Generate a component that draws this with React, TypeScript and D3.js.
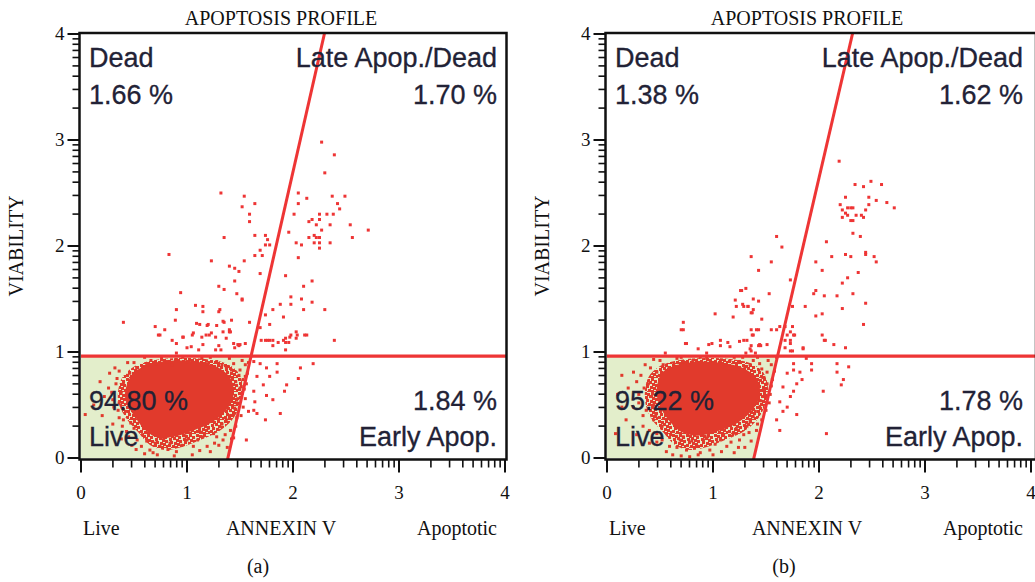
import React from "react";
import * as d3 from "d3";

// ---------- data ----------
const panelTags = ["(a)", "(b)"];
const panelTitle = "APOPTOSIS PROFILE";
const deadPct = ["1.66 %", "1.38 %"];
const latePct = ["1.70 %", "1.62 %"];
const livePct = ["94.80 %", "95.22 %"];
const earlyPct = ["1.84 %", "1.78 %"];
const gateY = [0.962, 0.962];
const diagBottomX = [1.377, 1.377];
const diagTopX = [2.3, 2.32];
const majorTicks = [0, 1, 2, 3, 4];
const minorDecadeSteps = [2, 3, 4, 5, 6, 7, 8, 9];

type P = [number, number];

// solid centre of the live population
const coreA: P[] = [
  [0.415, 0.61], [0.478, 0.783], [0.62, 0.877], [0.84, 0.918], [1.091, 0.909], [1.28, 0.861],
  [1.41, 0.752], [1.44, 0.594], [1.37, 0.45], [1.24, 0.34], [1.06, 0.26], [0.871, 0.2],
  [0.73, 0.19], [0.6, 0.27], [0.5, 0.4], [0.431, 0.516],
];
const coreB: P[] = [
  [0.469, 0.642], [0.516, 0.799], [0.657, 0.877], [0.877, 0.909], [1.097, 0.893], [1.286, 0.846],
  [1.42, 0.736], [1.44, 0.578], [1.36, 0.44], [1.23, 0.33], [1.035, 0.25], [0.846, 0.21],
  [0.68, 0.26], [0.55, 0.4], [0.484, 0.531],
];
// dense speckled halo of the live population
const haloA: P[] = [
  [0.349, 0.547], [0.387, 0.755], [0.509, 0.868], [0.698, 0.925], [0.934, 0.943], [1.17, 0.934],
  [1.358, 0.896], [1.481, 0.811], [1.528, 0.66], [1.5, 0.5], [1.425, 0.358], [1.292, 0.245],
  [1.123, 0.17], [0.953, 0.104], [0.792, 0.075], [0.651, 0.123], [0.538, 0.245], [0.425, 0.377],
];
const haloB: P[] = [
  [0.358, 0.547], [0.387, 0.755], [0.5, 0.868], [0.689, 0.925], [0.925, 0.943], [1.16, 0.934],
  [1.349, 0.896], [1.472, 0.811], [1.519, 0.66], [1.491, 0.5], [1.415, 0.358], [1.283, 0.245],
  [1.113, 0.17], [0.943, 0.104], [0.783, 0.075], [0.642, 0.123], [0.528, 0.245], [0.415, 0.377],
];

const fringeA: P[] = [
  [0.04, 0.41], [0.27, 0.8], [0.3, 0.55], [0.26, 0.66], [0.34, 0.75], [0.35, 0.45], [0.4, 0.36], [0.43, 0.25],
  [0.53, 0.17], [0.57, 0.11], [0.65, 0.075], [0.745, 0.11], [0.84, 0.14], [0.9, 0.06], [1.0, 0.17], [1.06, 0.11],
  [1.15, 0.2], [1.19, 0.11], [1.25, 0.23], [1.31, 0.295], [1.34, 0.17], [1.37, 0.36], [1.41, 0.26], [1.44, 0.42],
  [1.47, 0.52], [1.52, 0.61], [1.53, 0.74], [1.5, 0.83], [1.55, 0.88], [1.44, 0.89], [1.37, 0.86], [1.28, 0.91],
  [1.19, 0.89], [1.09, 0.92], [1.0, 0.91], [0.9, 0.93], [0.81, 0.91], [0.71, 0.89], [0.62, 0.88], [0.525, 0.85],
  [0.46, 0.8], [0.38, 0.62], [0.36, 0.52], [0.4, 0.7], [0.44, 0.78], [0.42, 0.44], [0.47, 0.33], [0.5, 0.28],
  [0.58, 0.22], [0.62, 0.16], [0.7, 0.14], [0.78, 0.18], [0.82, 0.08], [0.95, 0.12], [0.98, 0.21], [1.1, 0.17],
  [1.12, 0.25], [1.2, 0.28], [1.28, 0.2], [1.33, 0.32], [1.4, 0.4], [1.45, 0.47], [1.48, 0.56], [1.5, 0.66],
  [1.46, 0.72], [1.49, 0.78], [1.42, 0.83], [1.33, 0.88], [1.24, 0.86], [1.14, 0.94], [0.96, 0.95], [0.86, 0.88],
  [0.76, 0.94], [0.66, 0.92], [0.58, 0.86], [0.5, 0.9], [0.32, 0.85], [0.22, 0.58], [0.18, 0.72], [0.12, 0.5],
  [0.2, 0.4], [0.3, 0.32], [0.38, 0.18], [0.48, 0.12], [0.6, 0.04], [0.72, 0.03], [1.05, 0.03], [1.22, 0.06],
  [1.3, 0.12], [1.38, 0.1], [1.42, 0.18], [1.46, 0.3], [1.51, 0.4], [1.53, 0.48], [1.55, 0.56], [1.56, 0.7],
  [1.57, 0.8], [1.58, 0.9], [0.29, 0.62], [0.31, 0.48], [0.33, 0.7], [0.36, 0.38], [0.39, 0.3], [0.45, 0.2],
  [0.52, 0.08], [0.68, 0.05], [0.88, 0.02], [1.12, 0.07], [1.26, 0.14], [1.36, 0.22], [1.47, 0.38], [1.54, 0.65],
  [1.55, 0.77], [1.52, 0.92], [1.4, 0.94], [1.22, 0.95], [0.6, 0.95], [0.44, 0.9], [0.36, 0.82],
];

const fringeB: P[] = [
  [0.14, 0.78], [0.25, 0.81], [0.28, 0.72], [0.41, 0.85], [0.39, 0.7], [0.42, 0.58], [0.37, 0.45], [0.44, 0.36],
  [0.08, 0.23], [0.14, 0.48], [0.25, 0.48], [0.34, 0.3], [0.47, 0.23], [0.52, 0.17], [0.59, 0.11], [0.69, 0.17],
  [0.75, 0.075], [0.78, 0.012], [0.85, 0.11], [0.91, 0.17], [0.97, 0.075], [1.07, 0.17], [1.13, 0.11], [1.19, 0.23],
  [1.25, 0.17], [1.32, 0.3], [1.38, 0.39], [1.41, 0.26], [1.44, 0.48], [1.49, 0.58], [1.51, 0.7], [1.51, 0.81],
  [1.55, 0.88], [1.44, 0.89], [1.35, 0.88], [1.25, 0.91], [1.16, 0.92], [1.07, 0.92], [0.94, 0.94], [0.81, 0.92],
  [0.72, 0.91], [0.63, 0.89], [0.53, 0.88], [0.47, 0.81], [0.3, 0.6], [0.35, 0.66], [0.44, 0.5], [0.46, 0.4],
  [0.52, 0.3], [0.6, 0.22], [0.66, 0.1], [0.72, 0.2], [0.8, 0.16], [0.88, 0.05], [0.95, 0.2], [1.02, 0.13],
  [1.1, 0.22], [1.17, 0.15], [1.22, 0.28], [1.29, 0.22], [1.35, 0.34], [1.4, 0.44], [1.45, 0.54], [1.48, 0.64],
  [1.47, 0.76], [1.52, 0.92], [1.46, 0.84], [1.38, 0.92], [1.3, 0.86], [1.2, 0.95], [1.0, 0.9], [0.88, 0.95],
  [0.76, 0.88], [0.66, 0.94], [0.58, 0.84], [0.5, 0.92], [0.36, 0.88], [0.2, 0.66], [0.18, 0.36], [0.1, 0.6],
  [0.28, 0.22], [0.4, 0.14], [0.62, 0.03], [1.0, 0.03], [1.2, 0.05], [1.3, 0.1], [1.36, 0.16], [1.42, 0.32],
  [1.5, 0.45], [1.54, 0.6], [1.56, 0.74], [1.58, 0.82], [1.6, 0.95], [0.3, 0.52], [0.32, 0.78], [0.34, 0.4],
  [0.4, 0.26], [0.47, 0.15], [0.56, 0.06], [0.7, 0.02], [0.86, 0.03], [1.08, 0.06], [1.24, 0.1], [1.34, 0.24],
  [1.46, 0.36], [1.53, 0.52], [1.55, 0.68], [1.42, 0.95], [1.28, 0.95], [0.7, 0.95], [0.44, 0.93],
];

const scatterA: P[] = [
  [2.27, 2.98], [2.39, 2.86], [2.3, 2.69], [1.32, 2.5], [1.54, 2.47], [1.64, 2.4], [1.52, 2.37], [1.59, 2.3],
  [1.59, 2.23], [2.05, 2.5], [2.13, 2.45], [2.05, 2.4], [2.37, 2.47], [2.49, 2.47], [2.42, 2.4], [2.44, 2.35],
  [2.01, 2.3], [2.25, 2.3], [2.32, 2.3], [2.38, 2.3], [2.18, 2.25], [2.15, 2.23], [2.25, 2.25], [2.22, 2.2],
  [2.35, 2.2], [2.54, 2.2], [2.71, 2.15], [2.27, 2.15], [2.15, 2.08], [2.2, 2.1], [2.22, 2.08], [2.25, 2.08],
  [2.2, 2.03], [2.25, 2.03], [2.35, 2.03], [2.25, 1.98], [2.56, 2.08], [1.96, 2.13], [2.03, 2.03], [2.08, 2.01],
  [2.05, 1.89], [1.35, 2.08], [1.64, 2.1], [1.74, 2.1], [1.76, 2.06], [1.74, 2.01], [1.78, 2.01], [1.69, 1.96],
  [1.64, 1.91], [1.71, 1.91], [1.23, 1.86], [1.54, 1.86], [1.4, 1.81], [1.45, 1.79], [1.49, 1.76], [1.69, 1.74],
  [1.93, 1.72], [1.45, 1.67], [2.18, 1.67], [1.3, 1.62], [1.35, 1.59], [2.1, 1.62], [1.47, 1.55], [1.52, 1.5],
  [1.98, 1.52], [1.88, 1.45], [1.98, 1.45], [2.08, 1.5], [2.18, 1.47], [1.81, 1.4], [2.1, 1.4], [2.3, 1.4],
  [1.15, 1.43], [1.15, 1.38], [1.3, 1.38], [1.74, 1.35], [1.91, 1.33], [1.42, 1.3], [1.35, 1.28], [1.59, 1.28],
  [1.2, 1.26], [1.78, 1.26], [1.12, 1.26], [1.69, 1.23], [1.4, 1.21], [1.4, 1.19], [1.98, 1.16], [2.03, 1.19],
  [2.13, 1.16], [1.18, 1.16], [1.21, 1.16], [1.27, 1.14], [1.14, 1.14], [1.74, 1.11], [1.78, 1.11], [1.7, 1.11],
  [1.81, 1.06], [1.86, 1.09], [1.93, 1.13], [1.93, 1.09], [1.96, 1.09], [2.03, 1.13], [2.39, 1.11], [1.93, 1.02],
  [1.3, 1.06], [1.32, 1.02], [1.45, 1.04], [1.49, 1.06], [0.73, 1.16], [0.86, 1.11], [0.96, 1.14], [1.05, 1.16],
  [1.0, 1.04], [1.15, 1.07], [1.41, 1.19], [1.48, 1.07], [1.27, 1.02], [1.11, 1.02], [0.9, 0.99], [1.76, 1.11],
  [1.81, 1.11], [1.91, 1.11], [1.97, 1.14], [2.04, 1.16], [2.11, 1.16], [0.4, 1.28], [0.745, 1.16], [0.79, 1.21],
  [0.89, 1.3], [0.9, 1.08], [0.965, 1.14], [1.06, 1.18], [1.09, 1.27], [1.19, 1.25], [1.23, 1.18], [1.28, 1.25],
  [1.34, 1.29], [1.34, 1.19], [1.37, 1.13], [1.44, 1.08], [1.5, 1.07], [1.55, 1.08], [1.52, 1.49], [1.31, 1.4],
  [1.04, 1.05], [0.83, 1.92], [0.94, 1.56], [0.7, 1.24], [0.9, 1.4], [1.08, 1.44],
  [2.19, 0.89], [2.07, 0.85], [2.05, 0.75], [1.94, 0.69], [1.92, 0.63], [1.85, 0.89], [1.85, 0.81], [1.75, 0.85],
  [1.78, 0.77], [1.72, 0.69], [1.75, 0.59], [1.81, 0.55], [1.88, 0.42], [1.74, 0.36], [1.64, 0.53], [1.63, 0.63],
  [1.66, 0.77], [1.69, 0.89], [1.63, 0.91], [1.56, 0.17], [1.44, 0.19], [1.63, 0.45], [1.58, 0.44], [1.66, 0.42],
];

const scatterB: P[] = [
  [2.19, 2.8], [2.34, 2.58], [2.42, 2.56], [2.49, 2.61], [2.59, 2.58], [2.25, 2.46], [2.47, 2.46], [2.54, 2.43],
  [2.64, 2.41], [2.71, 2.36], [2.2, 2.39], [2.47, 2.39], [2.22, 2.34], [2.25, 2.31], [2.27, 2.36], [2.3, 2.36],
  [2.32, 2.36], [2.27, 2.29], [2.35, 2.29], [2.4, 2.29], [2.42, 2.27], [2.44, 2.34], [2.22, 2.27], [2.3, 2.24],
  [2.32, 2.24], [2.32, 2.12], [2.39, 2.09], [2.07, 2.04], [1.6, 2.09], [1.65, 1.99], [1.36, 1.9], [1.55, 1.85],
  [1.43, 1.77], [2.12, 1.9], [2.25, 1.92], [2.3, 1.9], [2.44, 1.94], [2.44, 1.92], [2.52, 1.9], [2.54, 1.85],
  [1.97, 1.85], [2.03, 1.77], [2.37, 1.75], [2.27, 1.7], [2.22, 1.65], [1.73, 1.68], [2.32, 1.55], [1.95, 1.55],
  [1.97, 1.58], [2.05, 1.53], [2.17, 1.53], [1.53, 1.55], [1.31, 1.6], [1.27, 1.58], [1.38, 1.5], [1.43, 1.48],
  [1.29, 1.43], [1.33, 1.43], [1.87, 1.43], [2.44, 1.46], [1.38, 1.4], [1.36, 1.37], [1.75, 1.43], [2.22, 1.41],
  [1.97, 1.34], [2.03, 1.36], [1.46, 1.31], [2.42, 1.26], [1.36, 1.21], [1.43, 1.21], [1.55, 1.21], [1.6, 1.21],
  [1.63, 1.24], [1.68, 1.24], [1.75, 1.24], [1.73, 1.19], [1.77, 1.16], [2.03, 1.16], [2.05, 1.11], [1.29, 1.11],
  [1.36, 1.06], [1.43, 1.06], [1.45, 1.06], [1.68, 1.11], [1.73, 1.11], [2.14, 1.07], [2.25, 1.04], [1.85, 1.04],
  [1.68, 1.04], [1.73, 1.01], [1.75, 1.01], [1.36, 1.01], [1.4, 0.99], [1.31, 0.99], [0.72, 1.21], [0.75, 1.08],
  [0.86, 1.03], [0.99, 1.08], [1.07, 1.11], [1.07, 1.06], [1.16, 1.05], [1.25, 1.1], [1.32, 1.11], [1.38, 1.16],
  [1.41, 1.21], [1.35, 1.03], [1.44, 1.07], [1.51, 1.07], [0.55, 0.99], [0.94, 0.99], [1.7, 1.16], [1.76, 1.16],
  [1.73, 1.08], [1.85, 1.03], [2.06, 1.11], [0.72, 1.28], [1.21, 1.49], [1.26, 1.58], [1.02, 1.36], [1.22, 1.43],
  [1.28, 1.45], [1.33, 1.43], [1.37, 1.37], [1.19, 1.33], [1.37, 1.16], [1.14, 1.09], [0.7, 1.21], [0.74, 1.08],
  [0.96, 1.07],
  [1.88, 0.94], [1.93, 0.89], [1.93, 0.83], [2.17, 0.89], [2.28, 0.86], [2.17, 0.81], [2.23, 0.74], [2.21, 0.69],
  [2.04, 0.63], [1.76, 0.89], [1.76, 0.83], [1.82, 0.81], [1.84, 0.74], [1.79, 0.7], [1.76, 0.63], [1.7, 0.8],
  [1.66, 0.67], [1.73, 0.58], [1.7, 0.48], [1.79, 0.41], [1.63, 0.53], [1.66, 0.44], [1.6, 0.36], [1.63, 0.26],
  [2.07, 0.23],
];

const cores = [coreA, coreB];
const halos = [haloA, haloB];
const fringes = [fringeA, fringeB];
const scatters = [scatterA, scatterB];

// ---------- layout ----------
const W = 1035;
const H = 582;
const panelLeft = [81, 607];
const plotW = 424;
const yTop = 34;
const yBottom = 458;

const RED = "#ee3535";
const CORE = "#e13a2c";
const GREEN = "#e3eecb";
const TXT = "#222236";
const SANS = "Liberation Sans, Arial, sans-serif";
const SERIF = "Liberation Serif, Times New Roman, serif";

// irregular speckle tile (texture only)
const speckleTile: P[] = [
  [0, 0], [3, 1], [7, 0], [10, 2], [1, 4], [5, 3], [8, 5], [11, 6], [2, 7], [6, 8], [9, 9], [0, 10], [4, 11], [7, 12], [12, 11], [3, 13], [10, 13],
];

const minorTicks: number[] = [];
for (let d = 0; d < 4; d++) for (const k of minorDecadeSteps) minorTicks.push(d + Math.log10(k));

function Panel({ i }: { i: number }) {
  const left = panelLeft[i];
  const x = d3.scaleLinear().domain([0, 4]).range([left, left + plotW]);
  const y = d3.scaleLinear().domain([0, 4]).range([yBottom, yTop]);
  const frameL = left - 1.5;
  const frameR = i === 0 ? left + plotW + 1.5 : left + plotW + 5;
  const frameT = yTop - 1;
  const frameB = yBottom + 1.5;
  const gy = gateY[i];
  const diagX = (v: number) => diagBottomX[i] + ((diagTopX[i] - diagBottomX[i]) * v) / 4;
  const green: P[] = [[0, 0], [0, gy], [diagX(gy), gy], [diagBottomX[i], 0]];
  const poly = (pts: P[]) => pts.map((p) => `${x(p[0])},${y(p[1])}`).join(" ");
  const blob = d3
    .line<P>()
    .x((p) => x(p[0]))
    .y((p) => y(p[1]))
    .curve(d3.curveCatmullRomClosed);
  const clipId = `clip${i}`;
  const patId = `speckle${i}`;
  const cx = left + 200;
  const s = 3;
  return (
    <g>
      <defs>
        <clipPath id={clipId}>
          <rect x={frameL} y={frameT} width={frameR - frameL} height={frameB - frameT} />
        </clipPath>
        <pattern id={patId} width={14} height={14} patternUnits="userSpaceOnUse">
          {speckleTile.map((p, k) => (
            <rect key={k} x={p[0]} y={p[1]} width={3} height={3} fill={CORE} />
          ))}
        </pattern>
      </defs>
      <text x={cx} y={25} textAnchor="middle" fontFamily={SERIF} fontSize={20} fill="#111">
        {panelTitle}
      </text>
      <g clipPath={`url(#${clipId})`}>
        <polygon points={poly(green)} fill={GREEN} />
        <path d={blob(halos[i]) || ""} fill={`url(#${patId})`} />
        <path d={blob(cores[i]) || ""} fill={CORE} />
        {fringes[i].map((p, k) => (
          <rect key={"f" + k} x={x(p[0]) - s / 2} y={y(p[1]) - s / 2} width={s} height={s} fill={CORE} />
        ))}
        {scatters[i].map((p, k) => (
          <rect key={"s" + k} x={x(p[0]) - s / 2} y={y(p[1]) - s / 2} width={s} height={s} fill={RED} />
        ))}
        <line x1={x(0)} x2={x(4) + 10} y1={y(gy)} y2={y(gy)} stroke={RED} strokeWidth={3.2} />
        <line x1={x(diagBottomX[i])} y1={y(0) + 4} x2={x(diagTopX[i])} y2={y(4) - 2} stroke={RED} strokeWidth={3} />
      </g>
      {/* quadrant labels */}
      <g fontFamily={SANS} fontSize={27} fill={TXT} stroke={TXT} strokeWidth={0.3}>
        <text x={left + 8} y={67}>Dead</text>
        <text x={left + 8} y={104}>{deadPct[i]}</text>
        <text x={left + plotW - 8} y={67} textAnchor="end">Late Apop./Dead</text>
        <text x={left + plotW - 8} y={104} textAnchor="end">{latePct[i]}</text>
        <text x={left + 8} y={410}>{livePct[i]}</text>
        <text x={left + 8} y={446}>Live</text>
        <text x={left + plotW - 8} y={410} textAnchor="end">{earlyPct[i]}</text>
        <text x={left + plotW - 8} y={446} textAnchor="end">Early Apop.</text>
      </g>
      {/* frame */}
      <rect x={frameL} y={frameT} width={frameR - frameL} height={frameB - frameT} fill="none" stroke="#111" strokeWidth={2.5} />
      {/* y axis ticks */}
      {majorTicks.map((t) => (
        <g key={"ym" + t}>
          <line x1={frameL - 12} x2={frameL} y1={y(t)} y2={y(t)} stroke="#111" strokeWidth={2} />
          <text x={frameL - 15} y={y(t) + 6} textAnchor="end" fontFamily={SERIF} fontSize={19} fill="#111">
            {t}
          </text>
        </g>
      ))}
      {minorTicks.map((t, k) => (
        <line key={"yn" + k} x1={frameL - 7} x2={frameL} y1={y(t)} y2={y(t)} stroke="#111" strokeWidth={1.6} />
      ))}
      {/* x axis ticks */}
      {majorTicks.map((t) => (
        <g key={"xm" + t}>
          <line x1={x(t)} x2={x(t)} y1={frameB} y2={frameB + 13} stroke="#111" strokeWidth={2} />
          <text x={x(t)} y={499} textAnchor="middle" fontFamily={SERIF} fontSize={19} fill="#111">
            {t}
          </text>
        </g>
      ))}
      {minorTicks.map((t, k) => (
        <line key={"xn" + k} x1={x(t)} x2={x(t)} y1={frameB} y2={frameB + 8} stroke="#111" strokeWidth={1.6} />
      ))}
      {/* axis labels */}
      <g fontFamily={SERIF} fontSize={20} fill="#111">
        <text x={left + 2} y={535}>Live</text>
        <text x={cx} y={535} textAnchor="middle">ANNEXIN V</text>
        <text x={left + plotW - 8} y={535} textAnchor="end">Apoptotic</text>
        <text x={left + 177} y={573} textAnchor="middle">{panelTags[i]}</text>
        <text transform={`translate(${left - 58},${y(2)}) rotate(-90)`} textAnchor="middle">
          VIABILITY
        </text>
      </g>
    </g>
  );
}

export default function App() {
  return (
    <svg
      width={W}
      height={H}
      viewBox={`0 0 ${W} ${H}`}
      style={{ position: "absolute", left: 0, top: 0, display: "block", background: "#fff" }}
    >
      <rect width={W} height={H} fill="#fff" />
      <Panel i={0} />
      <Panel i={1} />
    </svg>
  );
}
